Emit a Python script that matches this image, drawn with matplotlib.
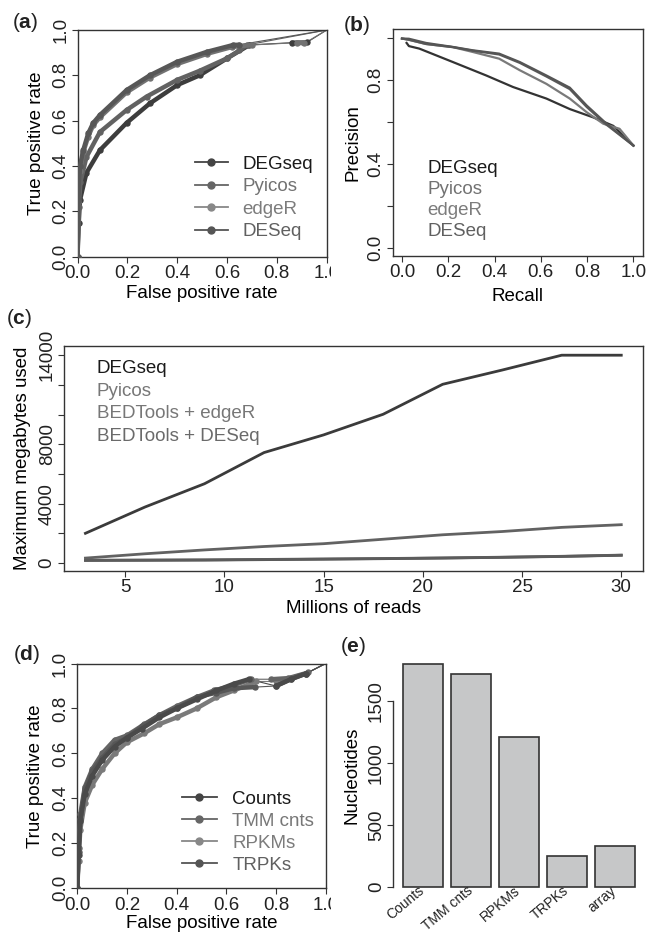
import numpy as np
import matplotlib
matplotlib.use("Agg")
import matplotlib.pyplot as plt
from matplotlib.lines import Line2D
from matplotlib.transforms import Bbox, TransformedBbox

plt.rcParams['font.family'] = ['Liberation Sans', 'DejaVu Sans']
plt.rcParams['mathtext.fontset'] = 'custom'
plt.rcParams['mathtext.rm'] = 'Liberation Sans'
plt.rcParams['mathtext.bf'] = 'Liberation Sans:bold'
plt.rcParams['text.color'] = '#222222'
plt.rcParams['axes.edgecolor'] = '#333333'

FS = 13.5

# ---------------- Panel (a): ROC curves ----------------
a_methods = ["DEGseq", "Pyicos", "edgeR", "DESeq"]
a_fpr = {
    "DEGseq": [0, 0.005, 0.01, 0.036, 0.09, 0.197, 0.29, 0.40, 0.49, 0.60, 0.69, 0.86, 0.92, 1.0],
    "Pyicos": [0, 0.005, 0.012, 0.036, 0.09, 0.197, 0.277, 0.40, 0.49, 0.60, 0.65, 0.68, 1.0],
    "edgeR": [0, 0.004, 0.01, 0.023, 0.043, 0.063, 0.09, 0.197, 0.29, 0.40, 0.52, 0.62, 0.70, 0.88, 0.91, 1.0],
    "DESeq": [0, 0.004, 0.01, 0.023, 0.043, 0.063, 0.09, 0.197, 0.29, 0.40, 0.52, 0.625, 0.65, 1.0],
}
a_tpr = {
    "DEGseq": [0, 0.15, 0.25, 0.37, 0.47, 0.59, 0.676, 0.757, 0.80, 0.875, 0.934, 0.944, 0.945, 1.0],
    "Pyicos": [0, 0.22, 0.33, 0.44, 0.55, 0.647, 0.706, 0.78, 0.82, 0.875, 0.91, 0.934, 1.0],
    "edgeR": [0, 0.24, 0.38, 0.46, 0.53, 0.58, 0.615, 0.725, 0.79, 0.85, 0.895, 0.925, 0.934, 0.944, 0.941, 1.0],
    "DESeq": [0, 0.25, 0.40, 0.47, 0.544, 0.59, 0.625, 0.735, 0.80, 0.86, 0.904, 0.934, 0.935, 1.0],
}
a_thin = {"DEGseq": [10, 12], "Pyicos": [11], "edgeR": [12, 14], "DESeq": [12]}
a_line_col = {"DEGseq": "#3d3d3d", "Pyicos": "#626262", "edgeR": "#727272", "DESeq": "#575757"}
a_leg_col = {"DEGseq": "#444444", "Pyicos": "#666666", "edgeR": "#888888", "DESeq": "#555555"}
a_txt_col = {"DEGseq": "#1a1a1a", "Pyicos": "#727272", "edgeR": "#7c7c7c", "DESeq": "#606060"}

# ---------------- Panel (b): precision-recall ----------------
b_recall = {
    "DEGseq": [0.02, 0.03, 0.075, 0.22, 0.364, 0.48, 0.624, 0.725, 0.827, 0.913, 1.0],
    "Pyicos": [0.0, 0.03, 0.104, 0.22, 0.306, 0.42, 0.509, 0.624, 0.725, 0.798, 0.884, 1.0],
    "edgeR": [0.0, 0.03, 0.104, 0.22, 0.306, 0.42, 0.509, 0.624, 0.725, 0.798, 0.87, 0.94, 1.0],
    "DESeq": [0.0, 0.03, 0.104, 0.22, 0.306, 0.42, 0.509, 0.624, 0.725, 0.798, 0.884, 1.0],
}
b_precision = {
    "DEGseq": [0.975, 0.96, 0.948, 0.884, 0.82, 0.765, 0.71, 0.66, 0.62, 0.58, 0.486],
    "Pyicos": [0.996, 0.995, 0.975, 0.956, 0.94, 0.924, 0.884, 0.82, 0.762, 0.677, 0.59, 0.486],
    "edgeR": [0.996, 0.99, 0.97, 0.955, 0.932, 0.90, 0.845, 0.78, 0.71, 0.645, 0.59, 0.566, 0.486],
    "DESeq": [0.996, 0.99, 0.97, 0.955, 0.938, 0.92, 0.88, 0.815, 0.755, 0.67, 0.585, 0.486],
}
b_line_col = {"DEGseq": "#333333", "Pyicos": "#555555", "edgeR": "#7a7a7a", "DESeq": "#5a5a5a"}

# ---------------- Panel (c): memory usage ----------------
c_reads = [3, 6, 9, 12, 15, 18, 21, 24, 27, 30]
c_labels = ["DEGseq", "Pyicos", "BEDTools + edgeR", "BEDTools + DESeq"]
c_mem = {
    "DEGseq": [2000, 3770, 5340, 7440, 8630, 10020, 12040, 13000, 14000, 14000],
    "Pyicos": [330, 620, 880, 1110, 1300, 1600, 1900, 2120, 2400, 2580],
    "BEDTools + edgeR": [190, 200, 210, 240, 270, 300, 340, 390, 450, 530],
    "BEDTools + DESeq": [170, 180, 195, 225, 255, 290, 330, 380, 440, 520],
}
c_line_col = {"DEGseq": "#3b3b3b", "Pyicos": "#626262", "BEDTools + edgeR": "#5c5c5c", "BEDTools + DESeq": "#555555"}
c_txt_col = {"DEGseq": "#1a1a1a", "Pyicos": "#777777", "BEDTools + edgeR": "#777777", "BEDTools + DESeq": "#6a6a6a"}

# ---------------- Panel (d): ROC by normalisation ----------------
d_methods = ["Counts", "TMM cnts", "RPKMs", "TRPKs"]
d_fpr = {
    "Counts": [0, 0.005, 0.012, 0.03, 0.06, 0.1, 0.15, 0.2, 0.26, 0.33, 0.4, 0.48, 0.56, 0.63, 0.69, 0.8, 0.86, 0.92, 1.0],
    "TMM cnts": [0, 0.005, 0.012, 0.03, 0.06, 0.1, 0.15, 0.2, 0.27, 0.33, 0.4, 0.48, 0.55, 0.62, 0.70, 0.78, 0.85, 0.93, 1.0],
    "RPKMs": [0, 0.005, 0.012, 0.03, 0.06, 0.1, 0.15, 0.2, 0.27, 0.33, 0.4, 0.48, 0.56, 0.63, 0.72, 0.8, 0.86, 0.92, 1.0],
    "TRPKs": [0, 0.005, 0.012, 0.03, 0.06, 0.1, 0.15, 0.2, 0.26, 0.33, 0.4, 0.48, 0.56, 0.63, 0.715, 0.8, 0.86, 0.92, 1.0],
}
d_tpr = {
    "Counts": [0, 0.15, 0.30, 0.42, 0.50, 0.57, 0.63, 0.67, 0.71, 0.76, 0.80, 0.84, 0.88, 0.91, 0.93, 0.90, 0.93, 0.955, 1.0],
    "TMM cnts": [0, 0.18, 0.33, 0.45, 0.53, 0.60, 0.66, 0.68, 0.73, 0.77, 0.81, 0.85, 0.88, 0.90, 0.93, 0.93, 0.935, 0.96, 1.0],
    "RPKMs": [0, 0.12, 0.26, 0.38, 0.46, 0.53, 0.60, 0.65, 0.69, 0.73, 0.76, 0.80, 0.85, 0.88, 0.92, 0.92, 0.935, 0.955, 1.0],
    "TRPKs": [0, 0.16, 0.31, 0.44, 0.52, 0.58, 0.64, 0.67, 0.72, 0.77, 0.80, 0.85, 0.87, 0.89, 0.895, 0.90, 0.93, 0.955, 1.0],
}
d_thin = {"Counts": [14, 17], "TMM cnts": [14, 17], "RPKMs": [14, 17], "TRPKs": [14, 17]}
d_line_col = {"Counts": "#4a4a4a", "TMM cnts": "#656565", "RPKMs": "#7a7a7a", "TRPKs": "#575757"}
d_leg_col = {"Counts": "#444444", "TMM cnts": "#666666", "RPKMs": "#888888", "TRPKs": "#555555"}
d_txt_col = {"Counts": "#1a1a1a", "TMM cnts": "#777777", "RPKMs": "#7c7c7c", "TRPKs": "#606060"}

# ---------------- Panel (e): bars ----------------
e_cats = ["Counts", "TMM cnts", "RPKMs", "TRPKs", "array"]
e_vals = [1800, 1720, 1210, 250, 330]

W, H = 646, 934
fig = plt.figure(figsize=(W / 100, H / 100), dpi=100)


def add_ax(l, r, t, b):
    return fig.add_axes([l / W, 1 - b / H, (r - l) / W, (b - t) / H])


def style(ax):
    ax.tick_params(direction='out', length=4, width=0.8, color='#333333',
                   labelsize=FS, labelcolor='#222222', pad=2)
    for s in ax.spines.values():
        s.set_linewidth(1.0)
        s.set_color('#333333')
    for lab in ax.get_yticklabels():
        lab.set_rotation(90)
        lab.set_va('center')


def draw_roc(ax, fpr, tpr, thin, col):
    x = np.asarray(fpr, float)
    y = np.asarray(tpr, float)
    ax.plot(x, y, color=col, lw=0.8, solid_capstyle='round', zorder=2)
    starts = [0] + [i + 1 for i in thin]
    ends = list(thin) + [len(x) - 1]
    for s, e in zip(starts, ends):
        if e > s:
            ax.plot(x[s:e + 1], y[s:e + 1], color=col, lw=3.2, marker='o', ms=3.6,
                    solid_capstyle='round', solid_joinstyle='round', zorder=3)
        elif e == s and s < len(x) - 1:
            ax.plot(x[s:s + 1], y[s:s + 1], color=col, marker='o', ms=4, ls='none', zorder=3)


def clip_right(ax, xpix):
    bb = TransformedBbox(Bbox([[0, 0], [xpix / W, 1]]), fig.transFigure)
    for lab in ax.get_xticklabels():
        lab.set_clip_box(bb)
        lab.set_clip_on(True)


def roc_axes(ax):
    ax.set_xlim(0, 1)
    ax.set_ylim(0, 1)
    t = [0, 0.2, 0.4, 0.6, 0.8, 1.0]
    ax.set_xticks(t, [f"{v:.1f}" for v in t])
    ax.set_yticks(t, [f"{v:.1f}" for v in t])
    style(ax)
    ax.set_xlabel("False positive rate", fontsize=FS, va='center')
    ax.set_ylabel("True positive rate", fontsize=FS, va='center')


# (a)
axa = add_ax(77.5, 326.7, 30, 256.7)
for m in ["DEGseq", "Pyicos", "edgeR", "DESeq"]:
    draw_roc(axa, a_fpr[m], a_tpr[m], a_thin[m], a_line_col[m])
roc_axes(axa)
axa.xaxis.set_label_coords(0.5, -0.162)
axa.yaxis.set_label_coords(-0.165, 0.5)
h = [Line2D([], [], color=a_leg_col[m], lw=1.3, marker='o', ms=5) for m in a_methods]
leg = axa.legend(h, a_methods, loc='upper left', bbox_to_anchor=(0.4715, 0.445),
                 frameon=False, fontsize=FS, borderpad=0, borderaxespad=0,
                 handlelength=1.76, handletextpad=0.75, labelspacing=0.28)
for t, m in zip(leg.get_texts(), a_methods):
    t.set_color(a_txt_col[m])
clip_right(axa, 331)

# (b)
axb = add_ax(392.7, 642.7, 29.3, 256)
for m in ["DEGseq", "edgeR", "DESeq", "Pyicos"]:
    axb.plot(b_recall[m], b_precision[m], color=b_line_col[m], lw=1.6,
             solid_joinstyle='round')
axb.set_xlim(-0.04, 1.04)
axb.set_ylim(-0.04, 1.04)
xt = [0, 0.2, 0.4, 0.6, 0.8, 1.0]
axb.set_xticks(xt, [f"{v:.1f}" for v in xt])
axb.set_yticks(xt, ["0.0", "", "0.4", "", "0.8", ""])
style(axb)
axb.set_xlabel("Recall", fontsize=FS, va='center')
axb.set_ylabel("Precision", fontsize=FS, va='center')
axb.xaxis.set_label_coords(0.5, -0.18)
axb.yaxis.set_label_coords(-0.158, 0.5)
hb = [Line2D([], [], ls='none') for _ in a_methods]
legb = axb.legend(hb, a_methods, loc='upper left', bbox_to_anchor=(0.138, 0.422),
                  frameon=False, fontsize=FS, borderpad=0, borderaxespad=0,
                  handlelength=0, handletextpad=0, labelspacing=0.2)
for t, m in zip(legb.get_texts(), a_methods):
    t.set_color(a_txt_col[m])

# (c)
axc = add_ax(64, 642.7, 346.3, 571)
for m in c_labels[::-1]:
    axc.plot(c_reads, c_mem[m], color=c_line_col[m], lw=2.0, solid_joinstyle='round')
axc.set_xlim(1.92, 31.08)
axc.set_ylim(-540, 14600)
axc.set_xticks([5, 10, 15, 20, 25, 30])
yt = list(range(0, 14001, 2000))
axc.set_yticks(yt, [str(v) if v in (0, 4000, 8000, 14000) else "" for v in yt])
style(axc)
axc.set_xlabel("Millions of reads", fontsize=FS, va='center')
axc.set_ylabel("Maximum megabytes used", fontsize=FS, va='center')
axc.xaxis.set_label_coords(0.5, -0.168)
axc.yaxis.set_label_coords(-0.072, 0.5)
hc = [Line2D([], [], ls='none') for _ in c_labels]
legc = axc.legend(hc, c_labels, loc='upper left', bbox_to_anchor=(0.057, 0.94),
                  frameon=False, fontsize=FS, borderpad=0, borderaxespad=0,
                  handlelength=0, handletextpad=0, labelspacing=0.3)
for t, m in zip(legc.get_texts(), c_labels):
    t.set_color(c_txt_col[m])

# (d)
axd = add_ax(77.3, 325.7, 663.5, 888.3)
for m in ["RPKMs", "TMM cnts", "TRPKs", "Counts"]:
    draw_roc(axd, d_fpr[m], d_tpr[m], d_thin[m], d_line_col[m])
roc_axes(axd)
axd.xaxis.set_label_coords(0.5, -0.156)
axd.yaxis.set_label_coords(-0.1675, 0.5)
hd = [Line2D([], [], color=d_leg_col[m], lw=1.3, marker='o', ms=5) for m in d_methods]
legd = axd.legend(hd, d_methods, loc='upper left', bbox_to_anchor=(0.42, 0.434),
                  frameon=False, fontsize=FS, borderpad=0, borderaxespad=0,
                  handlelength=1.87, handletextpad=0.83, labelspacing=0.26)
for t, m in zip(legd.get_texts(), d_methods):
    t.set_color(d_txt_col[m])
clip_right(axd, 331)

# (e)
axe = add_ax(393.4, 644, 655, 895.6)
xe = np.arange(len(e_cats))
axe.bar(xe, e_vals, width=1 / 1.2, color='#c6c7c8', edgecolor='#333333', linewidth=1.2)
axe.set_xlim(-0.61, 4.61)
axe.set_ylim(-72, 1872)
axe.set_yticks([0, 500, 1000, 1500], ["0", "500", "1000", "1500"])
axe.set_xticks(xe)
style(axe)
axe.set_xticklabels(e_cats, rotation=40, ha='right', va='center', rotation_mode='anchor',
                    fontsize=10)
axe.tick_params(axis='x', length=0, pad=-5)
for s in ['top', 'right', 'bottom']:
    axe.spines[s].set_visible(False)
axe.spines['left'].set_bounds(0, 1500)
axe.set_ylabel("Nucleotides", fontsize=FS, va='center')
axe.yaxis.set_label_coords(-0.164, 0.5)

# panel tags
for txt, x, y in [("a", 12, 23), ("b", 343, 25.5), ("c", 6, 318), ("d", 13, 654), ("e", 340, 646)]:
    fig.text(x / W, 1 - y / H, r"($\mathbf{" + txt + "}$)", fontsize=15, ha='left', va='center',
             color='#222222')

fig.savefig("out.png", dpi=100)
